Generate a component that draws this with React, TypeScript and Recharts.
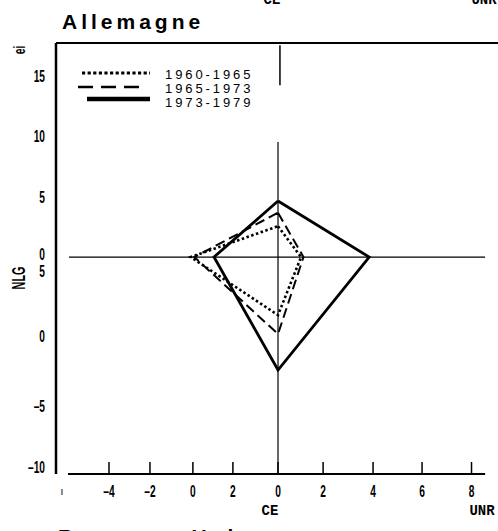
import React from 'react'
import { LineChart, Line, XAxis, YAxis, ReferenceLine, Legend } from 'recharts'

// diagram units: right half of x reads UNR, upper half of y reads ei
const PERIODS = ['1960-1965', '1965-1973', '1973-1979']
const TOP_EI = [2.55, 3.66, 4.63]
const RIGHT_UNR = [0.95, 1.05, 3.76]
const BOTTOM_NLG = [-4.8, -6.36, -9.34]
const LEFT_CE = [-3.6, -3.45, -2.64]

const X_TICKS = [-8.91, -6.97, -5.28, -3.51, -1.86, 0, 1.86, 3.92, 5.94, 7.98]
const X_LABELS = ['ı', '–4', '–2', '0', '2', '0', '2', '4', '6', '8']
const Y_TICKS = [15, 10, 5, 0, -1.07, -6.53, -12.31, -17.36]
const Y_LABELS = ['15', '10', '5', '0', '5', '0', '–5', '–10']

const X_DOMAIN = [-9.155, 9.072]
const Y_DOMAIN = [-17.93, 17.69]

const STYLES = [
  { dash: '2.5 2.5', width: 2.6, legendDash: '3.2 2.4', legendWidth: 3, x1: 6, x2: 74 },
  { dash: '10 5', width: 2, legendDash: '15 8', legendWidth: 2.5, x1: 2, x2: 69 },
  { dash: undefined, width: 2.8, legendDash: undefined, legendWidth: 4.5, x1: 11, x2: 74 },
]

const sans = "'Liberation Sans', Arial, sans-serif"

const series = PERIODS.map((name, i) => ({
  name,
  data: [
    { x: 0, y: TOP_EI[i] },
    { x: RIGHT_UNR[i], y: 0 },
    { x: 0, y: BOTTOM_NLG[i] },
    { x: LEFT_CE[i], y: 0 },
    { x: 0, y: TOP_EI[i] },
  ],
}))

// tall narrow bold digits, like the typewritten originals
function NarrowText({ x, y, anchor, size = 17, rotate = 0, children }: any) {
  return (
    <text
      transform={`translate(${x},${y}) rotate(${rotate}) scale(0.6,1)`}
      textAnchor={anchor}
      dominantBaseline="central"
      fontFamily={sans}
      fontWeight={700}
      fontSize={size}
      fill="#000"
    >
      {children}
    </text>
  )
}

function XTick({ x, y, payload }: any) {
  const idx = X_TICKS.indexOf(payload.value)
  return (
    <g>
      {idx > 0 && <line x1={x} x2={x} y1={y} y2={y - 12} stroke="#000" strokeWidth={1.5} />}
      <NarrowText x={x} y={y + 17} anchor="middle" size={idx === 0 ? 11 : 17}>
        {X_LABELS[idx]}
      </NarrowText>
    </g>
  )
}

function YTick({ x, y, payload }: any) {
  const idx = Y_TICKS.indexOf(payload.value)
  const shift = idx === 3 ? -3 : idx === 4 ? 1 : 0
  return (
    <NarrowText x={x} y={y + shift} anchor="end">
      {Y_LABELS[idx]}
    </NarrowText>
  )
}

function LegendBox() {
  const rows = [0, 14, 26]
  const textRows = [10, 24, 38]
  return (
    <svg width={190} height={46}>
      {PERIODS.map((p, i) => (
        <g key={p}>
          <line
            x1={STYLES[i].x1}
            x2={STYLES[i].x2}
            y1={rows[i] + 9}
            y2={rows[i] + 9}
            stroke="#000"
            strokeWidth={STYLES[i].legendWidth}
            strokeDasharray={STYLES[i].legendDash}
          />
          <text
            x={89}
            y={textRows[i]}
            dominantBaseline="central"
            fontFamily={sans}
            fontSize={13}
            letterSpacing={2.9}
            fill="#000"
          >
            {p}
          </text>
        </g>
      ))}
    </svg>
  )
}

export default function App() {
  return (
    <div style={{ position: 'absolute', left: 0, top: 0, width: 498, height: 531, background: '#fff' }}>
      <LineChart width={498} height={531} margin={{ top: 43, right: 0, bottom: 17, left: 0 }}>
        <XAxis
          type="number"
          dataKey="x"
          domain={X_DOMAIN}
          allowDataOverflow
          ticks={X_TICKS}
          interval={0}
          axisLine={false}
          tickLine={false}
          tickSize={0}
          tickMargin={0}
          height={40}
          tick={<XTick />}
        />
        <YAxis
          type="number"
          dataKey="y"
          domain={Y_DOMAIN}
          allowDataOverflow
          ticks={Y_TICKS}
          interval={0}
          width={56}
          axisLine={{ stroke: '#000', strokeWidth: 2.5 }}
          tickLine={false}
          tickSize={0}
          tickMargin={11}
          tick={<YTick />}
        />
        <ReferenceLine y={Y_DOMAIN[1]} stroke="#000" strokeWidth={2.2} />
        <ReferenceLine
          segment={[{ x: -8.66, y: Y_DOMAIN[0] }, { x: 8.54, y: Y_DOMAIN[0] }]}
          stroke="#000"
          strokeWidth={2}
        />
        <ReferenceLine segment={[{ x: -8.62, y: 0 }, { x: 8.54, y: 0 }]} stroke="#000" strokeWidth={1.2} />
        <ReferenceLine segment={[{ x: 0, y: 9.5 }, { x: 0, y: Y_DOMAIN[0] }]} stroke="#000" strokeWidth={1.2} />
        <ReferenceLine segment={[{ x: 0.08, y: 17.5 }, { x: 0.08, y: 14.2 }]} stroke="#000" strokeWidth={1.5} />
        {series.map((s, i) => (
          <Line
            key={s.name}
            name={s.name}
            data={s.data}
            dataKey="y"
            type="linear"
            stroke="#000"
            strokeWidth={STYLES[i].width}
            strokeDasharray={STYLES[i].dash}
            strokeLinejoin="miter"
            dot={false}
            activeDot={false}
            isAnimationActive={false}
          />
        ))}
        <Legend
          layout="horizontal"
          verticalAlign="middle"
          align="center"
          content={() => <LegendBox />}
          wrapperStyle={{ position: 'absolute', left: 76, top: 64, width: 190, height: 46 }}
        />
      </LineChart>
      <svg
        width={498}
        height={531}
        style={{ position: 'absolute', left: 0, top: 0, pointerEvents: 'none' }}
      >
        <text x={62} y={29} fontFamily={sans} fontWeight={700} fontSize={21} letterSpacing={4}>
          Allemagne
        </text>
        <text x={58} y={544} fontFamily={sans} fontWeight={700} fontSize={21} letterSpacing={4}>
          Royaume-Uni
        </text>
        <text x={272} y={4} textAnchor="middle" fontFamily="'Liberation Mono', monospace" fontWeight={700} fontSize={14}>CE</text>
        <text x={484} y={4} textAnchor="middle" fontFamily="'Liberation Mono', monospace" fontWeight={700} fontSize={14}>UNR</text>
        <text x={270} y={511} textAnchor="middle" dominantBaseline="central" fontFamily="'Liberation Mono', monospace" fontWeight={700} fontSize={14}>CE</text>
        <text x={482} y={511} textAnchor="middle" dominantBaseline="central" fontFamily="'Liberation Mono', monospace" fontWeight={700} fontSize={14}>UNR</text>
        <NarrowText x={19} y={50} anchor="middle" rotate={-90}>ei</NarrowText>
        <NarrowText x={19} y={278} anchor="middle" rotate={-90} size={18}>NLG</NarrowText>
      </svg>
    </div>
  )
}
